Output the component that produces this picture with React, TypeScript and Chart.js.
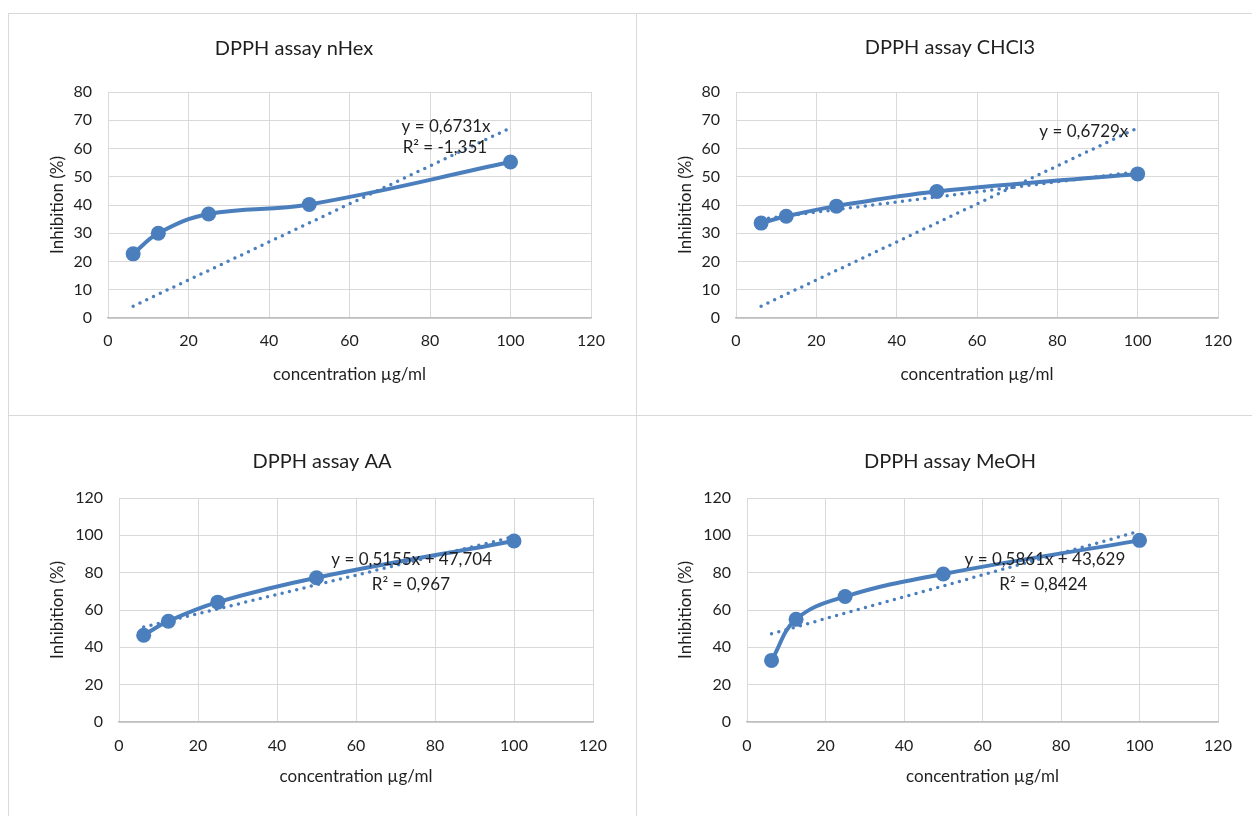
import { useEffect, useRef } from "react";
import { Chart, registerables } from "chart.js";

Chart.register(...registerables);

// ---- data ----
const concentrations = [6.25, 12.5, 25, 50, 100];
const nHexInhibition = [22.7, 30, 36.8, 40.2, 55.2];
const chcl3Inhibition = [33.6, 36, 39.6, 44.8, 51];
const aaInhibition = [46.5, 54, 64.2, 77.3, 97];
const meohInhibition = [33, 55, 67.2, 79.3, 97.3];

// trendline end points (x from first to last concentration)
const trendX = [6.25, 100];
const nHexTrendY = [4.2, 67.3];
const chcl3TrendY = [4.2, 67.3];
const chcl3Trend2Y = [35.0, 51.8];
const aaTrendY = [50.9, 99.3];
const meohTrendY = [47.3, 102.2];

const xTicksMax = 120;
const xStep = 20;

const nHexLabels = ["y = 0,6731x", "R² = -1,351"];
const chcl3Labels = ["y = 0,6729x"];
const aaLabels = ["y = 0,5155x + 47,704", "R² = 0,967"];
const meohLabels = ["y = 0,5861x + 43,629", "R² = 0,8424"];

const BLUE = "#4A7EBD";
const GRID = "#d9d9d9";
const TEXT = "#1f1f1f";
const FONT = "Lato";

type Label = { text: string; x: number; y: number };
type PanelCfg = {
  title: string;
  titleX: number;
  titleY: number;
  series: number[];
  trends: number[][];
  yMax: number;
  yStep: number;
  labels: Label[];
  left: number;
  top: number;
  W: number;
  H: number;
  L: number;
  T: number;
  R: number;
  B: number;
  yTitlePad: number;
  xTitlePad: number;
  xTickPad: number;
};

const panels: PanelCfg[] = [
  {
    title: "DPPH assay nHex",
    titleX: 286,
    titleY: 36,
    series: nHexInhibition,
    trends: [nHexTrendY],
    yMax: 80,
    yStep: 10,
    labels: [
      { text: nHexLabels[0], x: 84.0, y: 67.7 },
      { text: nHexLabels[1], x: 83.7, y: 60.3 },
    ],
    left: 8,
    top: 13,
    W: 628,
    H: 402,
    L: 100,
    T: 79,
    R: 583,
    B: 305,
    yTitlePad: 39,
    xTitlePad: 30,
    xTickPad: 13,
  },
  {
    title: "DPPH assay CHCl3",
    titleX: 314,
    titleY: 35,
    series: chcl3Inhibition,
    trends: [chcl3TrendY, chcl3Trend2Y],
    yMax: 80,
    yStep: 10,
    labels: [{ text: chcl3Labels[0], x: 86.6, y: 65.9 }],
    left: 636,
    top: 13,
    W: 616,
    H: 402,
    L: 100,
    T: 79,
    R: 582,
    B: 305,
    yTitlePad: 39,
    xTitlePad: 30,
    xTickPad: 13,
  },
  {
    title: "DPPH assay AA",
    titleX: 314,
    titleY: 47,
    series: aaInhibition,
    trends: [aaTrendY],
    yMax: 120,
    yStep: 20,
    labels: [
      { text: aaLabels[0], x: 74.1, y: 87.3 },
      { text: aaLabels[1], x: 73.9, y: 73.4 },
    ],
    left: 8,
    top: 415,
    W: 628,
    H: 401,
    L: 111,
    T: 83,
    R: 585,
    B: 307,
    yTitlePad: 39,
    xTitlePad: 29,
    xTickPad: 14,
  },
  {
    title: "DPPH assay MeOH",
    titleX: 314,
    titleY: 47,
    series: meohInhibition,
    trends: [meohTrendY],
    yMax: 120,
    yStep: 20,
    labels: [
      { text: meohLabels[0], x: 75.9, y: 87.3 },
      { text: meohLabels[1], x: 75.5, y: 73.4 },
    ],
    left: 636,
    top: 415,
    W: 616,
    H: 401,
    L: 111,
    T: 83,
    R: 582,
    B: 307,
    yTitlePad: 39,
    xTitlePad: 29,
    xTickPad: 14,
  },
];

const textPlugin = {
  id: "panelText",
  afterDatasetsDraw(chart: any, _args: any, opts: any) {
    const ctx = chart.ctx;
    ctx.save();
    ctx.fillStyle = TEXT;
    ctx.textAlign = "center";
    ctx.textBaseline = "middle";
    ctx.font = `20px ${FONT}`;
    ctx.fillText(opts.title, opts.titleX, opts.titleY);
    ctx.font = `17px ${FONT}`;
    for (const l of opts.labels as Label[]) {
      ctx.fillText(
        l.text,
        chart.scales.x.getPixelForValue(l.x),
        chart.scales.y.getPixelForValue(l.y)
      );
    }
    ctx.restore();
  },
};

function Panel({ cfg }: { cfg: PanelCfg }) {
  const ref = useRef<HTMLCanvasElement | null>(null);
  useEffect(() => {
    if (!ref.current) return;
    const trendSets = cfg.trends.map((ty) => ({
      data: trendX.map((x, i) => ({ x, y: ty[i] })),
      showLine: true,
      borderColor: BLUE,
      borderWidth: 3.5,
      borderDash: [0, 7.5],
      borderCapStyle: "round" as const,
      pointRadius: 0,
      fill: false,
    }));
    const chart = new Chart(ref.current, {
      type: "scatter",
      data: {
        datasets: [
          ...trendSets,
          {
            data: concentrations.map((x, i) => ({ x, y: cfg.series[i] })),
            showLine: true,
            borderColor: BLUE,
            borderWidth: 4,
            tension: 0.4,
            pointRadius: 7.5,
            pointBackgroundColor: BLUE,
            pointBorderColor: BLUE,
            pointBorderWidth: 0,
            fill: false,
          },
        ],
      },
      options: {
        animation: false,
        responsive: false,
        events: [],
        layout: {
          padding: { left: 0, top: cfg.T, right: cfg.W - cfg.R, bottom: 0 },
        },
        plugins: {
          legend: { display: false },
          tooltip: { enabled: false },
          title: { display: false },
          panelText: {
            title: cfg.title,
            titleX: cfg.titleX,
            titleY: cfg.titleY,
            labels: cfg.labels,
          },
        } as any,
        scales: {
          x: {
            type: "linear",
            min: 0,
            max: xTicksMax,
            ticks: {
              stepSize: xStep,
              padding: cfg.xTickPad,
              color: TEXT,
              font: { family: FONT, size: 16, lineHeight: 1.2 },
            },
            grid: { color: GRID, lineWidth: 1, drawTicks: false },
            border: { display: true, color: "#bfbfbf", width: 1.5 },
            title: {
              display: true,
              text: "concentration µg/ml",
              color: TEXT,
              font: { family: FONT, size: 17, lineHeight: 1.2 },
              padding: { top: 0, bottom: cfg.xTitlePad },
            },
            afterFit: (scale: any) => {
              scale.height = cfg.H - cfg.B;
            },
          },
          y: {
            type: "linear",
            min: 0,
            max: cfg.yMax,
            ticks: {
              stepSize: cfg.yStep,
              padding: 16,
              color: TEXT,
              font: { family: FONT, size: 16, lineHeight: 1.2 },
            },
            grid: { color: GRID, lineWidth: 1, drawTicks: false },
            border: { display: false },
            title: {
              display: true,
              text: "Inhibition (%)",
              color: TEXT,
              font: { family: FONT, size: 17, lineHeight: 1.2 },
              padding: { top: cfg.yTitlePad, bottom: 0 },
            },
            afterFit: (scale: any) => {
              scale.width = cfg.L;
            },
          },
        },
      },
      plugins: [textPlugin],
    });
    return () => chart.destroy();
  }, [cfg]);
  return (
    <canvas
      ref={ref}
      width={cfg.W}
      height={cfg.H}
      style={{
        position: "absolute",
        left: cfg.left,
        top: cfg.top,
        width: cfg.W,
        height: cfg.H,
      }}
    />
  );
}

const borderBoxes = [
  { left: 8, top: 13, width: 629, height: 403 },
  { left: 636, top: 13, width: 640, height: 403 },
  { left: 8, top: 415, width: 629, height: 420 },
  { left: 636, top: 415, width: 640, height: 420 },
];

export default function App() {
  return (
    <div
      style={{
        position: "absolute",
        left: 0,
        top: 0,
        width: 1252,
        height: 816,
        overflow: "hidden",
        background: "#ffffff",
      }}
    >
      {borderBoxes.map((b, i) => (
        <div
          key={i}
          style={{
            position: "absolute",
            left: b.left,
            top: b.top,
            width: b.width,
            height: b.height,
            boxSizing: "border-box",
            border: `1px solid ${GRID}`,
          }}
        />
      ))}
      {panels.map((p, i) => (
        <Panel key={i} cfg={p} />
      ))}
    </div>
  );
}
